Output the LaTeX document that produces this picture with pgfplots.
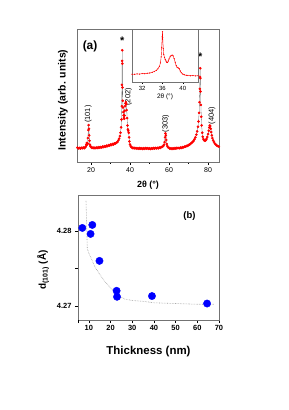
\documentclass[border=0pt]{standalone}
\usepackage{fontspec}
\setmainfont{Liberation Sans}
\usepackage{pgfplots}
\pgfplotsset{compat=1.18}
\usepackage{pgfplotstable}

\pgfplotstableread{
x y
13.0 10.8
13.5 10.2
14.0 10.6
14.5 10.1
15.0 10.7
15.5 10.3
16.0 10.9
16.5 10.4
17.0 11.0
17.3 11.6
17.6 13.0
17.8 14.2
18.0 13.0
18.2 14.0
18.4 18.0
18.6 24.0
18.75 27.8
18.9 25.0
19.05 20.0
19.2 16.0
19.4 13.0
19.7 11.8
20.0 11.2
20.5 10.6
21.0 10.9
21.5 10.3
22.0 10.8
22.5 10.4
23.0 11.0
23.5 10.5
24.0 11.2
24.5 10.7
25.0 11.3
25.5 10.9
26.0 11.6
26.5 11.2
27.0 11.9
27.5 11.5
28.0 12.3
28.5 11.9
29.0 12.7
29.5 12.3
30.0 13.1
30.5 12.8
31.0 13.5
31.5 13.2
32.0 14.0
32.5 13.8
33.0 14.6
33.5 15.0
34.0 16.2
34.4 17.5
34.8 19.5
35.1 22.0
35.4 26.0
35.6 32.0
35.75 42.0
35.85 58.0
35.95 76.0
36.0 84.0
36.05 74.0
36.15 56.0
36.25 46.0
36.4 41.0
36.55 37.5
36.7 35.0
36.85 33.0
37.0 32.5
37.15 35.0
37.3 38.5
37.5 42.0
37.7 44.0
37.9 45.0
38.1 43.5
38.3 39.0
38.5 33.0
38.7 27.5
38.9 24.5
39.1 23.5
39.3 22.0
39.5 18.5
39.7 15.5
40.0 13.2
40.3 12.0
40.7 11.2
41.0 10.9
41.5 10.4
42.0 10.7
42.5 10.2
43.0 10.5
43.5 10.0
44.0 10.4
44.5 9.9
45.0 10.5
45.5 10.0
46.0 10.3
46.5 9.8
47.0 10.4
47.5 9.9
48.0 10.5
48.5 10.0
49.0 10.4
49.5 9.9
50.0 10.3
50.5 9.8
51.0 10.4
51.5 10.0
52.0 10.5
52.5 10.1
53.0 10.6
53.5 10.2
54.0 10.7
54.5 10.3
55.0 10.9
55.5 10.6
56.0 11.2
56.5 11.4
57.0 12.0
57.4 13.0
57.7 15.0
57.95 18.5
58.15 21.5
58.35 20.0
58.55 16.5
58.8 13.5
59.1 12.0
59.5 11.0
60.0 10.6
60.5 10.0
61.0 10.4
61.5 9.8
62.0 10.3
62.5 9.9
63.0 10.5
63.5 10.1
64.0 10.7
64.5 10.4
65.0 10.6
65.5 10.3
66.0 10.9
66.5 10.6
67.0 11.2
67.5 11.0
68.0 11.6
68.5 11.5
69.0 12.1
69.5 12.1
70.0 12.8
70.5 13.0
71.0 13.7
71.5 14.2
72.0 15.0
72.5 15.8
73.0 17.0
73.5 18.5
74.0 20.5
74.4 23.0
74.8 26.5
75.1 30.5
75.4 37.0
75.6 45.0
75.75 55.0
75.85 64.0
75.95 70.5
76.05 63.0
76.15 53.0
76.3 43.0
76.5 34.0
76.7 27.5
77.0 22.0
77.3 19.0
77.6 17.2
78.0 16.3
78.4 16.0
78.8 16.4
79.2 17.3
79.6 18.8
80.0 21.0
80.3 23.5
80.6 26.0
80.85 27.5
81.1 27.0
81.35 25.0
81.6 22.5
81.9 20.0
82.2 18.0
82.6 16.2
83.0 15.0
83.5 13.8
84.0 13.0
84.5 12.4
85.0 12.0
85.5 11.6
}\xrd

\pgfplotstableread{
t d
7.0 4.2804
11.6 4.2808
10.8 4.2796
14.9 4.2760
22.8 4.2720
23.0 4.2712
39.1 4.2713
64.5 4.2703
}\dspace

\pgfplotstableread{
t d
8.7 4.2840
9.0 4.2805
9.3 4.2776
10.0 4.2770
11.0 4.2764
12.8 4.2752
15.0 4.2742
17.5 4.2732
20.0 4.2724
22.4 4.2717
24.5 4.2712
26.6 4.2709
30.0 4.2707
35.0 4.2706
40.0 4.2704
50.0 4.2703
60.0 4.2702
68.0 4.2702
}\fitline

\definecolor{framegray}{gray}{0.45}

\begin{document}
\begin{tikzpicture}
\path[use as bounding box] (0,0) rectangle (289bp,410bp);

% ---------- panel (a) ----------
\begin{axis}[
  at={(77bp,248bp)}, anchor=south west, scale only axis,
  width=142bp, height=133bp,
  xmin=12.8, xmax=85.6, ymin=0, ymax=100,
  xtick={20,40,60,80}, minor x tick num=1, ytick=\empty,
  tick align=outside, major tick length=3bp, minor tick length=2bp,
  axis line style={framegray, line width=0.6pt},
  tick style={black, line width=0.5pt},
  xtick pos=bottom,
  /pgf/number format/assume math mode=true,
  xticklabel style={font=\fontsize{7}{8}\selectfont, yshift=1bp},
  xlabel={\bfseries 2θ (°)},
  xlabel style={font=\fontsize{9}{10}\selectfont, at={(axis description cs:0.5,0)}, anchor=center, yshift=-23bp},
  ylabel={\bfseries Intensity (arb. units)},
  ylabel style={font=\fontsize{10.5}{12}\selectfont, at={(axis description cs:-0.0986,0.466)}, anchor=center},
  clip=true,
]
\addplot[draw=black!60, line width=0.3pt] table[x=x,y=y] {\xrd};
\addplot[only marks, mark=*, mark size=1.1pt, color=red] table[x=x,y=y] {\xrd};
\node[font=\fontsize{12}{13}\selectfont\bfseries] at (axis cs:19.5,87) {(a)};
\node[font=\fontsize{11}{12}\selectfont\bfseries] at (axis cs:36,91) {*};
\node[font=\fontsize{11}{12}\selectfont\bfseries] at (axis cs:76,79.5) {*};
\node[rotate=90, font=\fontsize{7.5}{8}\selectfont] at (axis cs:18.5,36) {(101)};
\node[rotate=90, font=\fontsize{7.5}{8}\selectfont] at (axis cs:39.2,49) {(202)};
\node[rotate=90, font=\fontsize{7.5}{8}\selectfont] at (axis cs:58.3,29) {(303)};
\node[rotate=90, font=\fontsize{7.5}{8}\selectfont] at (axis cs:82.0,35) {(404)};
\end{axis}

% ---------- inset ----------
\begin{axis}[
  at={(132bp,328bp)}, anchor=south west, scale only axis,
  width=66bp, height=53bp,
  xmin=30, xmax=43, ymin=0, ymax=88.5,
  xtick={32,36,40}, ytick=\empty,
  tick align=outside, major tick length=2bp,
  axis line style={framegray, line width=0.6pt},
  tick style={black, line width=0.4pt},
  xtick pos=bottom,
  axis background/.style={fill=white},
  /pgf/number format/assume math mode=true,
  xticklabel style={font=\fontsize{6}{7}\selectfont, yshift=1bp},
  xlabel={2θ (°)},
  xlabel style={font=\fontsize{6.5}{7}\selectfont, at={(axis description cs:0.5,0)}, anchor=center, yshift=-15bp},
]
\addplot[draw=red, line width=0.4pt, mark=*, mark size=0.35pt, mark options={fill=red!70}] table[x=x,y=y] {\xrd};
\end{axis}

% ---------- panel (b) ----------
\begin{axis}[
  at={(78bp,90bp)}, anchor=south west, scale only axis,
  width=141bp, height=125bp,
  xmin=5, xmax=70, ymin=4.2681, ymax=4.2848,
  xtick={10,20,30,40,50,60,70}, ytick={4.27,4.28}, yticklabels={4.27,4.28},
  minor ytick={4.275}, extra x ticks={5}, extra x tick labels={},
  scaled y ticks=false, scaled x ticks=false,
  tick align=outside, major tick length=3bp, minor tick length=3bp,
  axis line style={framegray, line width=0.6pt},
  tick style={black, line width=0.5pt},
  xtick pos=bottom, ytick pos=left,
  /pgf/number format/assume math mode=true,
  xticklabel style={font=\fontsize{7.5}{8}\selectfont\bfseries, yshift=1bp},
  yticklabel style={font=\fontsize{7.5}{8}\selectfont\bfseries},
  xlabel={\bfseries Thickness (nm)},
  xlabel style={font=\fontsize{11.5}{13}\selectfont, at={(axis description cs:0.5,0)}, anchor=center, yshift=-32bp},
  ylabel={\bfseries d\textsubscript{(101)} (Å)},
  ylabel style={font=\fontsize{10}{12}\selectfont, at={(axis description cs:-0.248,0.4)}, anchor=center},
  clip=false,
]
\addplot[draw=black!40, densely dotted, line width=0.6pt] table[x=t,y=d] {\fitline};
\addplot[only marks, mark=*, mark size=3.7pt, color=blue] table[x=t,y=d] {\dspace};
\node[font=\fontsize{9.5}{10}\selectfont\bfseries] at (axis cs:56.4,4.2820) {(b)};
\end{axis}
\end{tikzpicture}
\end{document}
